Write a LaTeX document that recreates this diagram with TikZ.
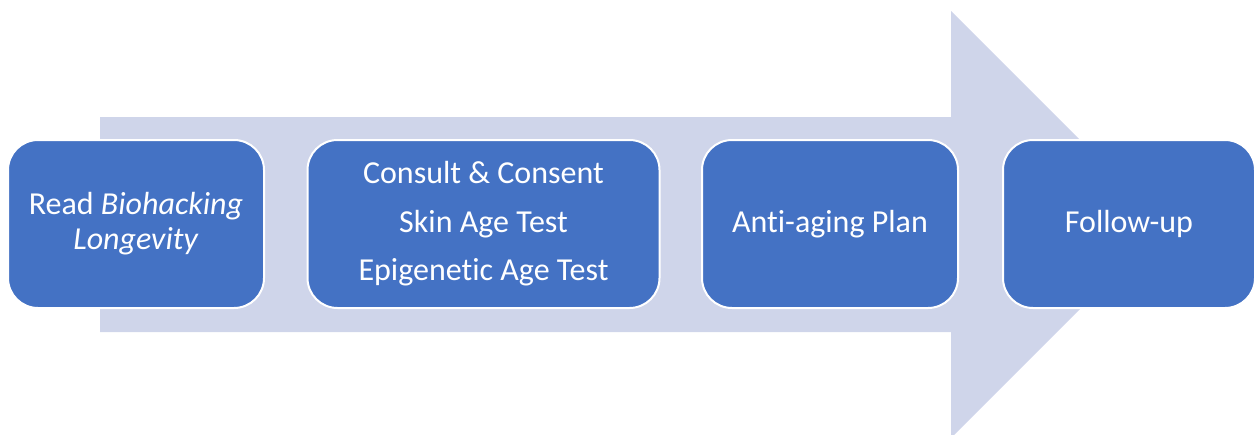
\documentclass[tikz,border=0pt]{standalone}
\usepackage{fontspec}
\setmainfont{Carlito}[Ligatures=NoCommon]
\definecolor{boxblue}{HTML}{4472C4}
\definecolor{arrowgray}{HTML}{CFD5EA}
\begin{document}
\begin{tikzpicture}[x=1pt,y=-1pt,
    stepbox/.style={draw=white,line width=2pt,fill=boxblue,rounded corners=30pt,
      minimum height=168pt,inner sep=0pt,text=white,align=center,
      font=\fontsize{32}{35}\selectfont}]
  \useasboundingbox (0,0) rectangle (1256,434);
  \clip (0,0) rectangle (1256,434);

  % big arrow behind the steps
  \fill[arrowgray] (100,117) -- (951,117) -- (951,11) -- (1164.5,224.5)
    -- (951,438) -- (951,332) -- (100,332) -- cycle;

  % the four steps
  \node[stepbox,minimum width=256pt] (read) at (136,224)
    {Read \textit{Biohacking}\\\textit{Longevity}};
  \node[stepbox,minimum width=352pt] (consult) at (483.5,224)
    {Consult \& Consent\\[13.5pt]Skin Age Test\\[13.5pt]Epigenetic Age Test};
  \node[stepbox,minimum width=256pt] (plan) at (830,224) {Anti-aging Plan};
  \node[stepbox,minimum width=252pt] (follow) at (1129,224) {Follow-up};
\end{tikzpicture}
\end{document}
